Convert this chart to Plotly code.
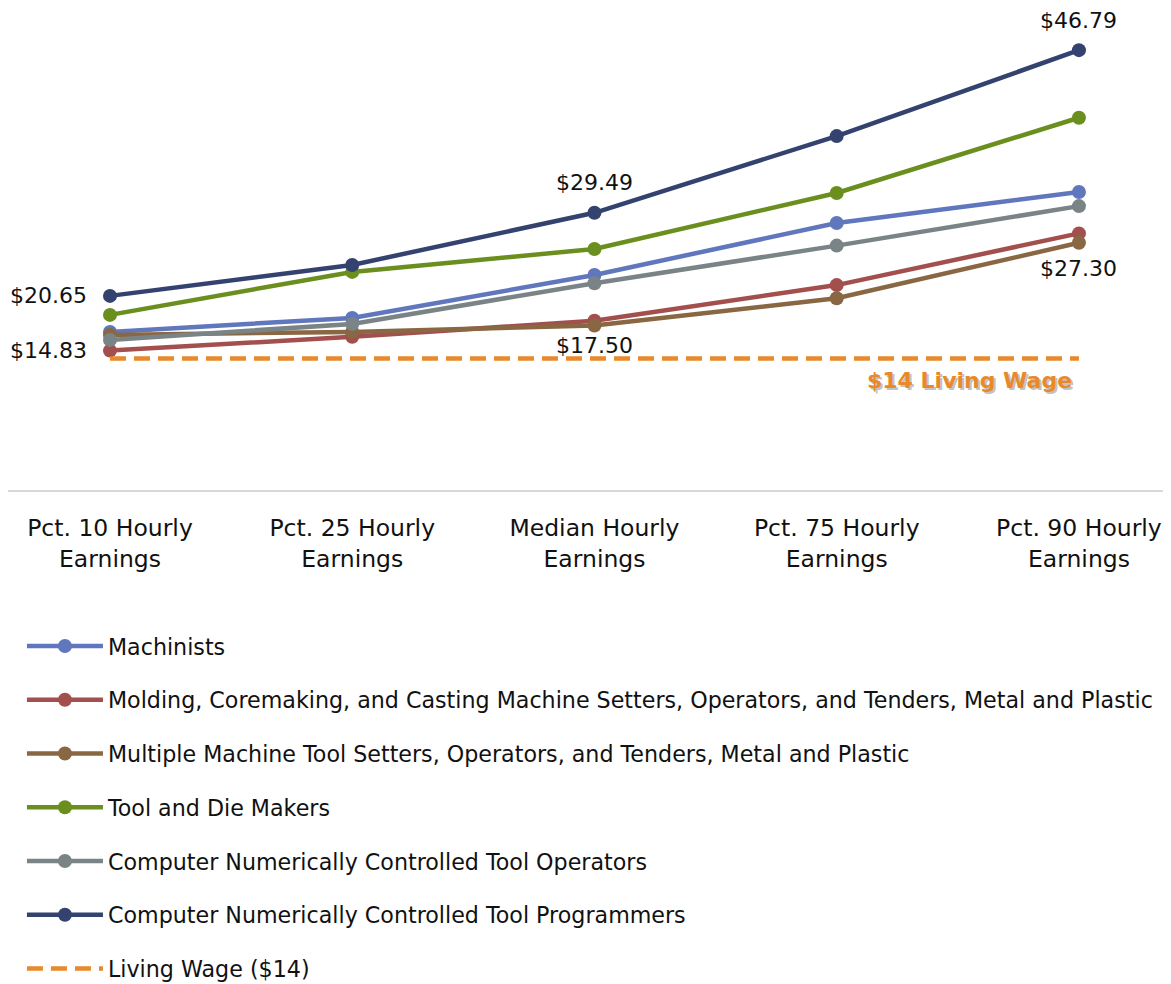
import plotly.graph_objects as go

categories = ["Pct. 10 Hourly<br>Earnings", "Pct. 25 Hourly<br>Earnings", "Median Hourly<br>Earnings",
              "Pct. 75 Hourly<br>Earnings", "Pct. 90 Hourly<br>Earnings"]

machinists = [16.82, 18.30, 22.88, 28.40, 31.70]
molding = [14.83, 16.30, 18.00, 21.80, 27.30]
multiple = [16.50, 16.82, 17.50, 20.40, 26.30]
tool_die = [18.63, 23.20, 25.64, 31.60, 39.60]
cnc_operators = [15.97, 17.67, 22.00, 26.00, 30.20]
cnc_programmers = [20.65, 23.94, 29.49, 37.65, 46.79]
living_wage = [14, 14, 14, 14, 14]

series = [
    ("Machinists", machinists, "#6076bd"),
    ("Molding, Coremaking, and Casting Machine Setters, Operators, and Tenders, Metal and Plastic", molding, "#a24f4e"),
    ("Multiple Machine Tool Setters, Operators, and Tenders, Metal and Plastic", multiple, "#8a6743"),
    ("Tool and Die Makers", tool_die, "#6a8f1f"),
    ("Computer Numerically Controlled Tool Operators", cnc_operators, "#7a8487"),
    ("Computer Numerically Controlled Tool Programmers", cnc_programmers, "#34426f"),
]

FONT = "DejaVu Sans"
TXT = "#111111"

fig = go.Figure()
for i, (name, vals, col) in enumerate(series):
    fig.add_trace(go.Scatter(
        x=categories, y=vals, name=name, mode="lines+markers",
        line=dict(color=col, width=4.5), marker=dict(size=14, color=col),
        legendgroup=f"g{i}", cliponaxis=False,
    ))

fig.add_trace(go.Scatter(
    x=categories, y=living_wage, name="Living Wage ($14)", mode="lines",
    line=dict(color="#e8892b", width=4.5, dash="16px,8px"),
    legendgroup="g6", cliponaxis=False,
))

# data labels
labels = [
    (categories[0], cnc_programmers[0], "$20.65", "right", "middle", -21, 0),
    (categories[0], molding[0], "$14.83", "right", "middle", -21, 0),
    (categories[2], cnc_programmers[2], "$29.49", "center", "bottom", 0, 16),
    (categories[2], multiple[2], "$17.50", "center", "top", 0, -5),
    (categories[4], cnc_programmers[4], "$46.79", "center", "bottom", 0, 15),
    (categories[4], molding[4], "$27.30", "center", "top", 0, -21),
]
annotations = []
for x, y, t, xa, ya, xs, ys in labels:
    annotations.append(dict(x=x, y=y, xref="x", yref="y", text=t, showarrow=False,
                            xanchor=xa, yanchor=ya, xshift=xs, yshift=ys,
                            font=dict(family=FONT, size=22, color=TXT)))

# living wage label with shadow
for dx, dy, col in [(2, -2, "rgba(120,120,120,0.45)"), (0, 0, "#e8892b")]:
    annotations.append(dict(x=categories[4], y=living_wage[4], xref="x", yref="y",
                            text="<b>$14 Living Wage</b>", showarrow=False,
                            xanchor="right", yanchor="middle", xshift=-5 + dx, yshift=-22 + dy,
                            font=dict(family=FONT, size=22, color=col)))

fig.update_layout(
    width=1163, height=976,
    margin=dict(l=0, r=0, t=11.5, b=494, autoexpand=False),
    paper_bgcolor="white", plot_bgcolor="white",
    font=dict(family=FONT, size=22, color=TXT),
    showlegend=True,
    legend=dict(
        x=0.012, y=-0.2874, xanchor="left", yanchor="top",
        orientation="v", tracegroupgap=21.9,
        font=dict(family=FONT, size=22.2, color=TXT),
        bgcolor="rgba(0,0,0,0)", itemwidth=76,
    ),
    annotations=annotations,
)
fig.update_xaxes(
    range=[-0.421, 4.380], showline=True, linecolor="#d9d9d9", linewidth=2,
    showgrid=False, zeroline=False, ticks="", ticklabelstandoff=16,
    automargin=False,
    tickfont=dict(family=FONT, size=23.5, color=TXT),
)
fig.update_yaxes(range=[0, 50], visible=False, showgrid=False, zeroline=False, automargin=False)

fig.write_html("out.html")
